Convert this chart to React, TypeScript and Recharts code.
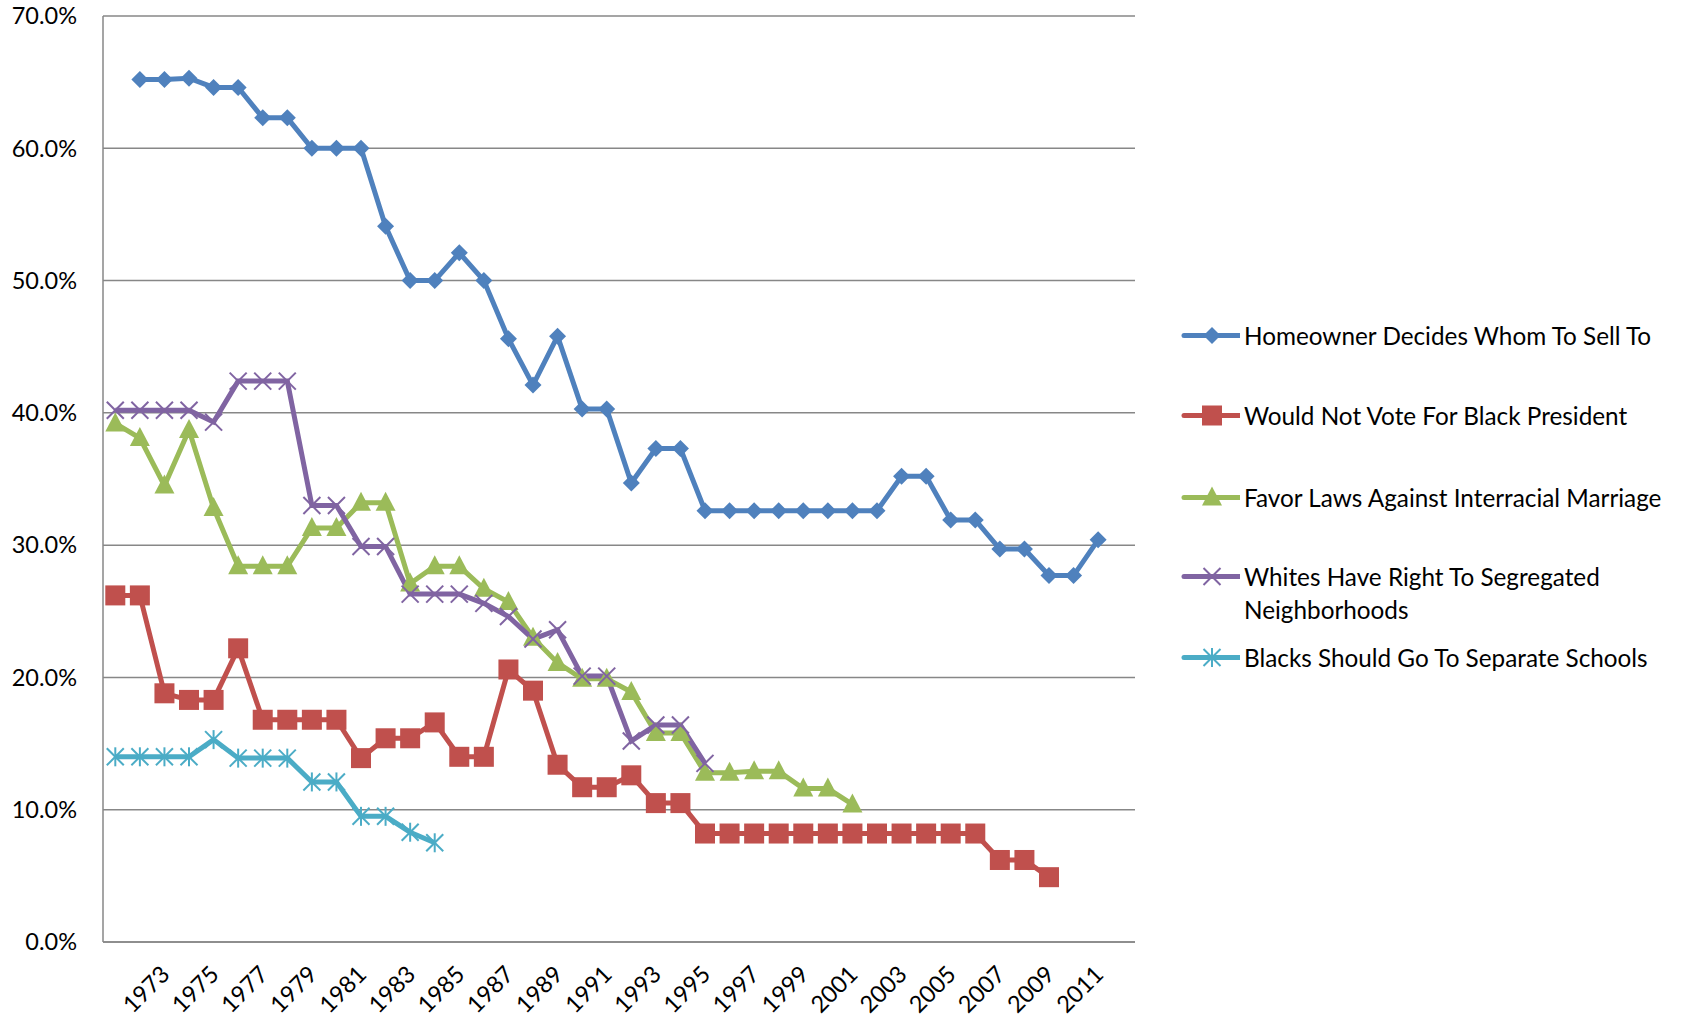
import React from 'react';
import { LineChart, Line, XAxis, YAxis, CartesianGrid } from 'recharts';

const YEARS = ['1971','1972','1973','1974','1975','1976','1977','1978','1979','1980','1981','1982','1983','1984','1985','1986','1987','1988','1989','1990','1991','1992','1993','1994','1995','1996','1997','1998','1999','2000','2001','2002','2003','2004','2005','2006','2007','2008','2009','2010','2011','2012'];

const TICK_YEARS = ['1973','1975','1977','1979','1981','1983','1985','1987','1989','1991','1993','1995','1997','1999','2001','2003','2005','2007','2009','2011'];

const Y_TICKS = [0, 10, 20, 30, 40, 50, 60, 70];

const HOMEOWNER = [null,65.2,65.2,65.3,64.6,64.6,62.3,62.3,60.0,60.0,60.0,54.1,50.0,50.0,52.1,50.0,45.6,42.1,45.8,40.3,40.3,34.7,37.3,37.3,32.6,32.6,32.6,32.6,32.6,32.6,32.6,32.6,35.2,35.2,31.9,31.9,29.7,29.7,27.7,27.7,30.4,null];

const PRESIDENT = [26.2,26.2,18.8,18.3,18.3,22.2,16.8,16.8,16.8,16.8,13.9,15.4,15.4,16.6,14.0,14.0,20.6,19.0,13.4,11.7,11.7,12.6,10.5,10.5,8.2,8.2,8.2,8.2,8.2,8.2,8.2,8.2,8.2,8.2,8.2,8.2,6.2,6.2,4.9,null,null,null];

const MARRIAGE = [39.2,38.1,34.5,38.7,32.8,28.4,28.4,28.4,31.3,31.3,33.2,33.2,27.1,28.4,28.4,26.7,25.7,23.0,21.1,19.9,19.9,18.9,15.8,15.8,12.8,12.8,12.9,12.9,11.6,11.6,10.4,null,null,null,null,null,null,null,null,null,null,null];

const SEGREGATED = [40.2,40.2,40.2,40.2,39.3,42.4,42.4,42.4,33.0,33.0,29.9,29.9,26.3,26.3,26.3,25.6,24.6,22.9,23.6,20.1,20.1,15.2,16.4,16.4,13.5,null,null,null,null,null,null,null,null,null,null,null,null,null,null,null,null,null];

const SCHOOLS = [14.0,14.0,14.0,14.0,15.3,13.9,13.9,13.9,12.1,12.1,9.5,9.5,8.3,7.5,null,null,null,null,null,null,null,null,null,null,null,null,null,null,null,null,null,null,null,null,null,null,null,null,null,null,null,null];

const SERIES = [
  { key: 'homeowner', name: 'Homeowner Decides Whom To Sell To', color: '#4F81BD', shape: 'diamond', values: HOMEOWNER },
  { key: 'president', name: 'Would Not Vote For Black President', color: '#C0504D', shape: 'square', values: PRESIDENT },
  { key: 'marriage', name: 'Favor Laws Against Interracial Marriage', color: '#9BBB59', shape: 'triangle', values: MARRIAGE },
  { key: 'segregated', name: 'Whites Have Right To Segregated Neighborhoods', color: '#8064A2', shape: 'x', values: SEGREGATED },
  { key: 'schools', name: 'Blacks Should Go To Separate Schools', color: '#4BACC6', shape: 'star', values: SCHOOLS },
];

const data = YEARS.map((year, i) => {
  const row: any = { year };
  SERIES.forEach((s) => { row[s.key] = s.values[i]; });
  return row;
});

const FONT = 'Lato, "Open Sans", sans-serif';

function Marker({ cx, cy, shape, color }: any) {
  if (cx == null || cy == null || isNaN(cx) || isNaN(cy)) return <g />;
  switch (shape) {
    case 'diamond': {
      const r = 8.5;
      return <polygon points={`${cx},${cy - r} ${cx + r},${cy} ${cx},${cy + r} ${cx - r},${cy}`} fill={color} />;
    }
    case 'square':
      return <rect x={cx - 10} y={cy - 10} width={20} height={20} fill={color} />;
    case 'triangle':
      return <polygon points={`${cx},${cy - 11} ${cx + 10},${cy + 8} ${cx - 10},${cy + 8}`} fill={color} />;
    case 'x': {
      const r = 8.5;
      return (
        <g stroke={color} strokeWidth={2}>
          <line x1={cx - r} y1={cy - r} x2={cx + r} y2={cy + r} />
          <line x1={cx - r} y1={cy + r} x2={cx + r} y2={cy - r} />
        </g>
      );
    }
    case 'star': {
      const r = 8.5;
      return (
        <g stroke={color} strokeWidth={2}>
          <line x1={cx - r} y1={cy - r} x2={cx + r} y2={cy + r} />
          <line x1={cx - r} y1={cy + r} x2={cx + r} y2={cy - r} />
          <line x1={cx} y1={cy - r - 1} x2={cx} y2={cy + r + 1} />
        </g>
      );
    }
    default:
      return <g />;
  }
}

const XTick = (props: any) => {
  const { x, y, payload } = props;
  const ax = x + 1;
  const ay = y + 28;
  return (
    <text
      x={ax}
      y={ay}
      dy="0.35em"
      textAnchor="end"
      transform={`rotate(-45, ${ax}, ${ay})`}
      fontFamily={FONT}
      fontSize={23.5}
      fill="#000"
    >
      {payload.value}
    </text>
  );
};

const ROW_TOPS = [18.5, 98.5, 180.5, 259.5, 340.5];

const ChartLegend = () => (
  <div style={{ position: 'absolute', left: 1180, top: 300, width: 511, height: 400, fontFamily: FONT, fontSize: 24.3, color: '#000' }}>
    {SERIES.map((s, i) => (
      <div key={s.key} style={{ position: 'absolute', left: 0, top: ROW_TOPS[i], width: 511, height: 33 }}>
        <svg width={60} height={33} style={{ position: 'absolute', left: 0, top: 0 }}>
          <line x1={4} y1={16.5} x2={60} y2={16.5} stroke={s.color} strokeWidth={5} strokeLinecap="round" />
          <Marker cx={32} cy={16.5} shape={s.shape} color={s.color} />
        </svg>
        <div style={{ position: 'absolute', left: 64, top: 0, width: 445, lineHeight: '33px', whiteSpace: s.key === 'segregated' ? 'normal' : 'nowrap' }}>
          {s.name}
        </div>
      </div>
    ))}
  </div>
);

export default function App() {
  return (
    <div style={{ position: 'absolute', left: 0, top: 0, width: 1691, height: 1018, background: '#fff' }}>
      <LineChart width={1691} height={1018} data={data} margin={{ top: 16, right: 556, bottom: 0, left: 0 }}>
        <CartesianGrid vertical={false} stroke="#878787" strokeWidth={1.5} />
        <XAxis
          dataKey="year"
          ticks={TICK_YEARS}
          interval={0}
          height={76}
          padding={{ left: 12.3, right: 12.3 }}
          tickSize={0}
          tickMargin={0}
          tickLine={false}
          axisLine={{ stroke: '#878787', strokeWidth: 1.5 }}
          tick={<XTick />}
        />
        <YAxis
          width={103}
          domain={[0, 70]}
          ticks={Y_TICKS}
          interval={0}
          tickLine={false}
          tickSize={6}
          tickMargin={20}
          axisLine={{ stroke: '#878787', strokeWidth: 1.5 }}
          tickFormatter={(v: number) => `${v.toFixed(1)}%`}
          tick={{ fontFamily: FONT, fontSize: 23.5, fill: '#000' }}
        />
        {SERIES.map((s) => (
          <Line
            key={s.key}
            type="linear"
            dataKey={s.key}
            name={s.name}
            stroke={s.color}
            strokeWidth={5}
            isAnimationActive={false}
            activeDot={false}
            dot={(p: any) => <Marker key={`${s.key}-${p.index}`} cx={p.cx} cy={p.cy} shape={s.shape} color={s.color} />}
          />
        ))}
      </LineChart>
      <ChartLegend />
    </div>
  );
}
